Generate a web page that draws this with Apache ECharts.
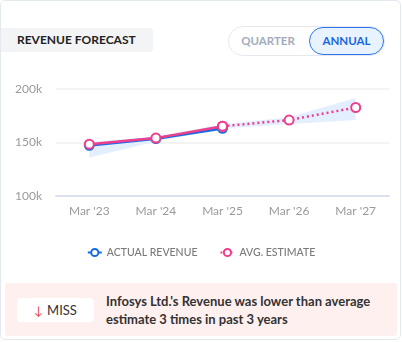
<!DOCTYPE html>
<html>
<head>
<meta charset="utf-8">
<script src="https://cdn.jsdelivr.net/npm/echarts@6/dist/echarts.min.js"></script>
<style>
  html, body { margin:0; padding:0; background:#fff; font-family: Lato, "Open Sans", sans-serif; }
  #card { position:absolute; left:0; top:0; width:401px; height:340px; border:1px solid #e4e8ef; border-radius:5px; box-sizing:border-box; }
  #title { position:absolute; left:1px; top:28px; width:152px; height:24px; background:#f3f4f6; border-radius:0 4px 4px 0; font-weight:700; font-size:12px; color:#222; line-height:24px; padding-left:16px; box-sizing:border-box; }
  #toggle { position:absolute; left:228px; top:26px; width:157px; height:30px; border:1px solid #e6e8ee; border-radius:15px; box-sizing:border-box; }
  #q { position:absolute; left:237px; top:26px; width:62px; height:30px; line-height:30px; text-align:center; font-weight:700; font-size:11.5px; color:#a3abbb; }
  #a { position:absolute; left:309px; top:27px; width:75px; height:28px; line-height:26px; text-align:center; font-weight:700; font-size:11.5px; color:#1a66e0; background:#e9f2ff; border:1.5px solid #2a78ee; border-radius:14px; box-sizing:border-box; }
  #chart { position:absolute; left:0; top:60px; width:402px; height:215px; }
  #note { position:absolute; left:5px; top:283px; width:392px; height:53px; background:#fff0f0; border-radius:3px; }
  #miss { position:absolute; left:17px; top:298px; width:77px; height:24px; background:#fff; border-radius:4px; text-align:center; line-height:24px; font-size:13px; color:#333; }
  #miss span { color:#e84545; font-size:12px; margin-right:4px; }
  #msg { position:absolute; left:106px; top:292px; width:290px; font-size:13px; font-weight:700; color:#333; line-height:18px; }
</style>
</head>
<body>
<div id="card"></div>
<div id="title">REVENUE FORECAST</div>
<div id="toggle"></div>
<div id="q">QUARTER</div>
<div id="a">ANNUAL</div>
<div id="chart"></div>
<div id="note"></div>
<div id="miss"><span>↓</span>MISS</div>
<div id="msg">Infosys Ltd.'s Revenue was lower than average estimate 3 times in past 3 years</div>
<script>
const categories = ["Mar '23", "Mar '24", "Mar '25", "Mar '26", "Mar '27"];
const actualRevenue = [147400, 153700, 163300, null, null];
const avgEstimate = [148400, 154100, 165200, null, null];
const avgForecast = [null, null, 165200, 171000, 182700];
const estimateLow = [136000, 151000, 163000, 167300, 171000];
const estimateHigh = [150500, 155500, 167000, 173600, 191600];
const yTicks = [100000, 150000, 200000];

const bandWidth = estimateHigh.map((h, i) => h - estimateLow[i]);
const chart = echarts.init(document.getElementById('chart'));
const blue = '#1a6ae6', pink = '#ee3f8c';
chart.setOption({
  animation: false,
  grid: { left: 56, right: 13, top: 29, bottom: 79 },
  legend: {
    bottom: 12, left: 'center', itemGap: 22, itemWidth: 14, itemHeight: 9,
    textStyle: { color: '#7a7a7a', fontSize: 10.5, fontFamily: 'Lato', fontWeight: 500 },
    data: ['ACTUAL REVENUE', 'AVG. ESTIMATE']
  },
  xAxis: {
    type: 'category', data: categories, boundaryGap: true,
    axisLine: { lineStyle: { color: '#dde1ec', width: 2 } },
    axisTick: { show: false },
    axisLabel: { color: '#9a9a9a', fontSize: 12, fontFamily: 'Lato', margin: 9 }
  },
  yAxis: {
    type: 'value', min: yTicks[0], max: yTicks[yTicks.length - 1], interval: 50000,
    axisLabel: { color: '#9a9a9a', fontSize: 12, fontFamily: 'Lato', margin: 14, formatter: v => (v / 1000) + 'k' },
    splitLine: { lineStyle: { color: '#efefef', width: 1.5 } }
  },
  series: [
    { name: 'low', type: 'line', data: estimateLow, stack: 'band', symbol: 'none', lineStyle: { opacity: 0 }, silent: true },
    { name: 'band', type: 'line', data: bandWidth, stack: 'band', symbol: 'none', lineStyle: { opacity: 0 }, areaStyle: { color: '#e3efff', opacity: 1 }, silent: true },
    { name: 'ACTUAL REVENUE', type: 'line', data: actualRevenue, color: blue, symbol: 'emptyCircle', symbolSize: 9, lineStyle: { width: 3, color: blue }, itemStyle: { color: blue, borderWidth: 2.5, borderColor: blue }, z: 3 },
    { name: 'AVG. ESTIMATE', type: 'line', data: avgForecast, color: pink, symbol: 'emptyCircle', symbolSize: 9, lineStyle: { width: 2.5, type: [2, 3], color: pink }, itemStyle: { color: pink, borderWidth: 2.5, borderColor: pink }, z: 4 },
    { name: 'AVG. ESTIMATE', type: 'line', data: avgEstimate, color: pink, symbol: 'emptyCircle', symbolSize: 9, lineStyle: { width: 2.5, color: pink }, itemStyle: { color: pink, borderWidth: 2.5, borderColor: pink }, z: 5 }
  ]
});
</script>
</body>
</html>
